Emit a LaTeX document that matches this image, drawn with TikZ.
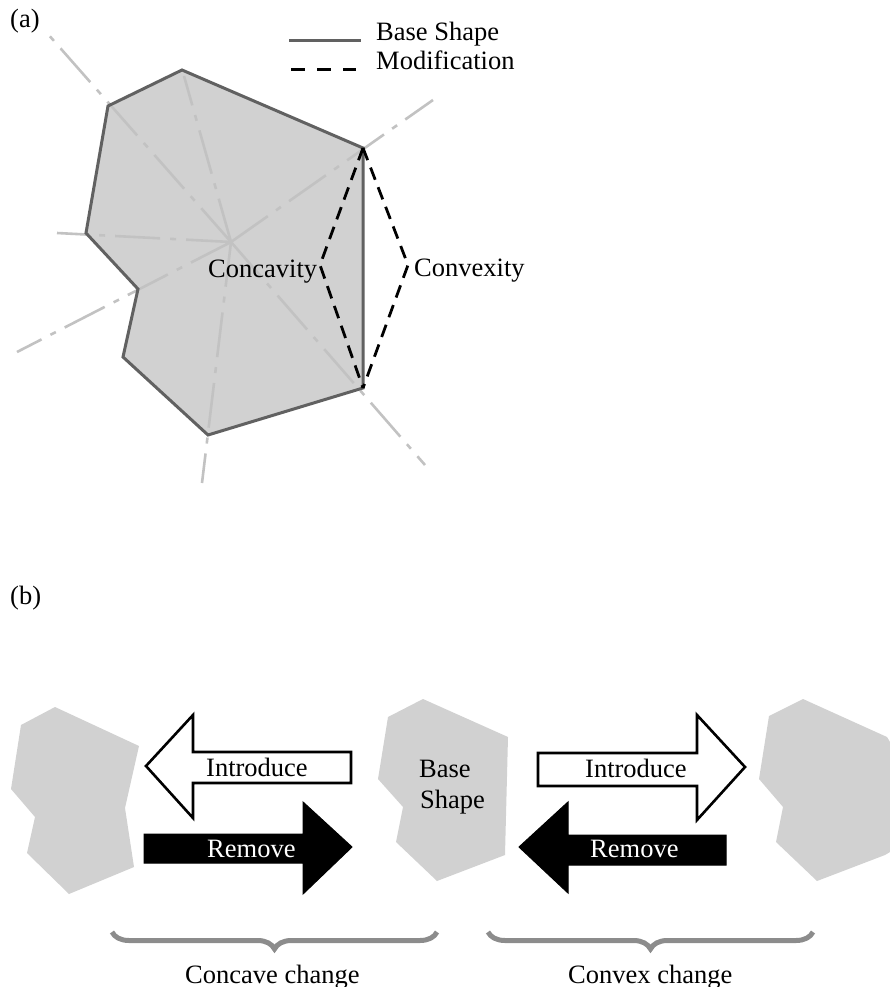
\documentclass[tikz,border=0pt]{standalone}
\usepackage{fontspec}
\setmainfont{Liberation Serif}
\usepackage{xcolor}
\usepackage{tikz}
\usetikzlibrary{decorations.pathreplacing}
\definecolor{blobgray}{gray}{0.82}
\definecolor{edgegray}{gray}{0.38}
\definecolor{spokegray}{gray}{0.76}
\definecolor{bracegray}{gray}{0.55}
\tikzstyle{blob} = [fill=blobgray, draw=none]
\tikzstyle{outline} = [draw=edgegray, line width=3pt, line join=miter]
\tikzstyle{spoke} = [draw=spokegray, line width=2.6pt,
                     dash pattern=on 45pt off 10pt on 6pt off 10pt]
\tikzstyle{modline} = [draw=black, line width=2.8pt, dash pattern=on 13pt off 8pt]
\tikzstyle{openarrow} = [draw=black, fill=white, line width=2.6pt, line join=miter]
\tikzstyle{fullarrow} = [draw=black, fill=black, line width=1pt, line join=miter]
\tikzstyle{lbl} = [inner sep=0pt, anchor=base west,
                   font=\fontsize{26.5}{32}\selectfont]
\tikzstyle{bracket} = [draw=bracegray, line width=5pt, decorate,
                       decoration={brace, amplitude=17pt, mirror}]

\begin{document}
\begin{tikzpicture}[x=1pt, y=-1pt]
  \useasboundingbox (0,0) rectangle (890,987);
  % Part (a)
  \node [lbl] (parta) at (10,28) {(a)};
  \coordinate (c) at (231,242);
  \coordinate (v1) at (182,70);
  \coordinate (v2) at (108,106);
  \coordinate (v3) at (86,233);
  \coordinate (v4) at (138,289);
  \coordinate (v5) at (123,357);
  \coordinate (v6) at (208,435);
  \coordinate (v7) at (363,388);
  \coordinate (v8) at (363,148);
  \fill [blob] (v1) -- (v2) -- (v3) -- (v4) -- (v5) -- (v6) -- (v7) -- (v8) -- cycle;
  % spokes from the centre
  \foreach \ex/\ey in {47/33, 184/76, 433/100, 57/233, 17/352, 202/483, 425/465}
    \draw [spoke] (c) -- (\ex,\ey);
  \draw [outline] (v1) -- (v2) -- (v3) -- (v4) -- (v5) -- (v6) -- (v7) -- (v8) -- cycle;
  % modifications
  \coordinate (cc) at (320,265);
  \coordinate (cx) at (408,265);
  \draw [modline] (v8) -- (cc) -- (v7);
  \draw [modline] (v8) -- (cx) -- (v7);
  \node [lbl] (concavity) at (208,277) {Concavity};
  \node [lbl] (convexity) at (414,276) {Convexity};
  % legend
  \draw [outline] (289,41) -- (361,41);
  \draw [draw=black, line width=3pt, dash pattern=on 14pt off 12pt] (291,70) -- (356,70);
  \node [lbl] (legbase) at (376,41) {Base Shape};
  \node [lbl] (legmod) at (376,70) {Modification};

  % Part (b)
  \node [lbl] (partb) at (10,604) {(b)};
  % shapes
  \fill [blob] (55,707) -- (139,746) -- (125,808) -- (134,867) -- (69,894)
    -- (27,853) -- (35,817) -- (11,789) -- (21,725) -- cycle;
  \fill [blob] (423,699) -- (508,737) -- (505,855) -- (437,881) -- (396,842)
    -- (403,807) -- (378,779) -- (388,717) -- cycle;
  \fill [blob] (803,699) -- (887,737) -- (890,742) -- (890,852) -- (885,855)
    -- (817,881) -- (776,842) -- (783,807) -- (759,779) -- (769,716) -- cycle;
  % arrows, concave side
  \filldraw [openarrow] (146,766) -- (193,715) -- (193,752) -- (351,752)
    -- (351,783) -- (193,783) -- (193,818) -- cycle;
  \filldraw [fullarrow] (144,834) -- (303,834) -- (303,802) -- (352,847)
    -- (303,894) -- (303,863) -- (144,863) -- cycle;
  % arrows, convex side
  \filldraw [openarrow] (538,753) -- (697,753) -- (697,715) -- (745,767)
    -- (697,820) -- (697,786) -- (538,786) -- cycle;
  \filldraw [fullarrow] (519,847) -- (568,802) -- (568,835) -- (726,835)
    -- (726,865) -- (568,865) -- (568,893) -- cycle;
  % texts
  \node [lbl] (intro1) at (206,776) {Introduce};
  \node [lbl, text=white] (remove1) at (207,857) {Remove};
  \node [lbl] (base) at (419,777) {Base};
  \node [lbl] (shape) at (420,808) {Shape};
  \node [lbl] (intro2) at (585,777) {Introduce};
  \node [lbl, text=white] (remove2) at (590,857) {Remove};
  % braces
  \draw [bracket] (112,932) -- (437,932);
  \draw [bracket] (488,932) -- (813,932);
  \node [lbl] (concave) at (185,983) {Concave change};
  \node [lbl] (convex) at (568,983) {Convex change};
\end{tikzpicture}
\end{document}
